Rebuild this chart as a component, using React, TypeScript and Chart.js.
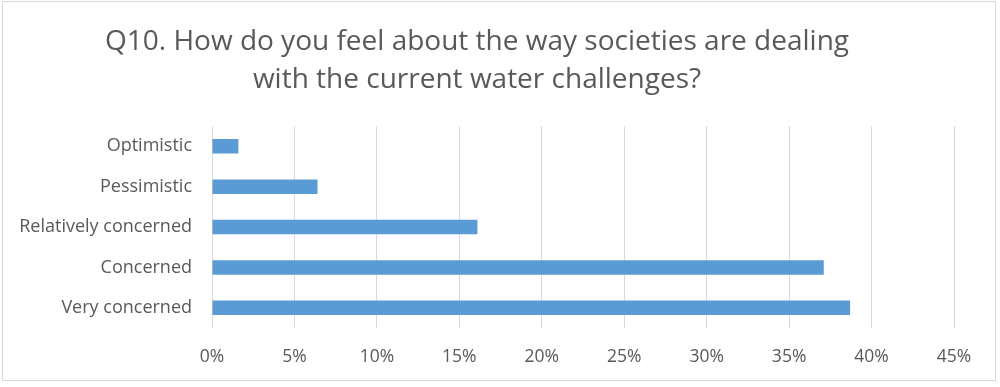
import React, { useEffect, useRef } from "react";
import { Chart, registerables } from "chart.js";

Chart.register(...registerables);

const categories = ["Optimistic", "Pessimistic", "Relatively concerned", "Concerned", "Very concerned"];
const shares = [1.6, 6.4, 16.1, 37.1, 38.7];
const titleLines = ["Q10. How do you feel about the way societies are dealing", "with the current water challenges?"];
const xMax = 45;
const xStep = 5;

const FONT = "'Open Sans', Lato, sans-serif";
const TEXT = "#595959";
const GRID = "#d9d9d9";

const borderPlugin = {
  id: "outerBorder",
  beforeDraw(chart: any) {
    const ctx = chart.ctx;
    ctx.save();
    ctx.fillStyle = "#ffffff";
    ctx.fillRect(0, 0, chart.width, chart.height);
    ctx.strokeStyle = GRID;
    ctx.lineWidth = 1;
    ctx.strokeRect(2.5, 1.5, 993, 379);
    ctx.restore();
  },
};

export default function App() {
  const ref = useRef<HTMLCanvasElement>(null);
  useEffect(() => {
    if (!ref.current) return;
    const chart = new Chart(ref.current, {
      type: "bar",
      data: {
        labels: categories,
        datasets: [
          {
            data: shares,
            backgroundColor: "#5b9bd5",
            borderWidth: 0,
            barPercentage: 0.36,
            categoryPercentage: 1,
          },
        ],
      },
      options: {
        indexAxis: "y",
        animation: false,
        responsive: false,
        devicePixelRatio: 1,
        layout: { padding: { left: 0, right: 46, top: 0, bottom: 24 } },
        plugins: {
          legend: { display: false },
          tooltip: { enabled: false },
          title: {
            display: true,
            text: titleLines,
            color: TEXT,
            font: { family: FONT, size: 28, weight: "normal", lineHeight: 1.36 },
            padding: { top: 23, bottom: 27 },
          },
        },
        scales: {
          x: {
            min: 0,
            max: xMax,
            grid: { color: GRID, lineWidth: 1, drawTicks: false },
            border: { display: false },
            ticks: {
              stepSize: xStep,
              color: TEXT,
              padding: 19,
              font: { family: FONT, size: 17.5 },
              callback: (v: any) => v + "%",
            },
            afterFit: (s: any) => {
              s.height = 35;
            },
          },
          y: {
            grid: { display: false, drawTicks: false },
            border: { display: false },
            ticks: {
              color: TEXT,
              padding: 20,
              font: { family: FONT, size: 18 },
            },
            afterFit: (s: any) => {
              s.width = 212;
            },
          },
        },
      },
      plugins: [borderPlugin],
    });
    return () => chart.destroy();
  }, []);
  return (
    <div style={{ position: "absolute", left: 0, top: 0, width: 1000, height: 387 }}>
      <canvas ref={ref} width={1000} height={387} />
    </div>
  );
}
